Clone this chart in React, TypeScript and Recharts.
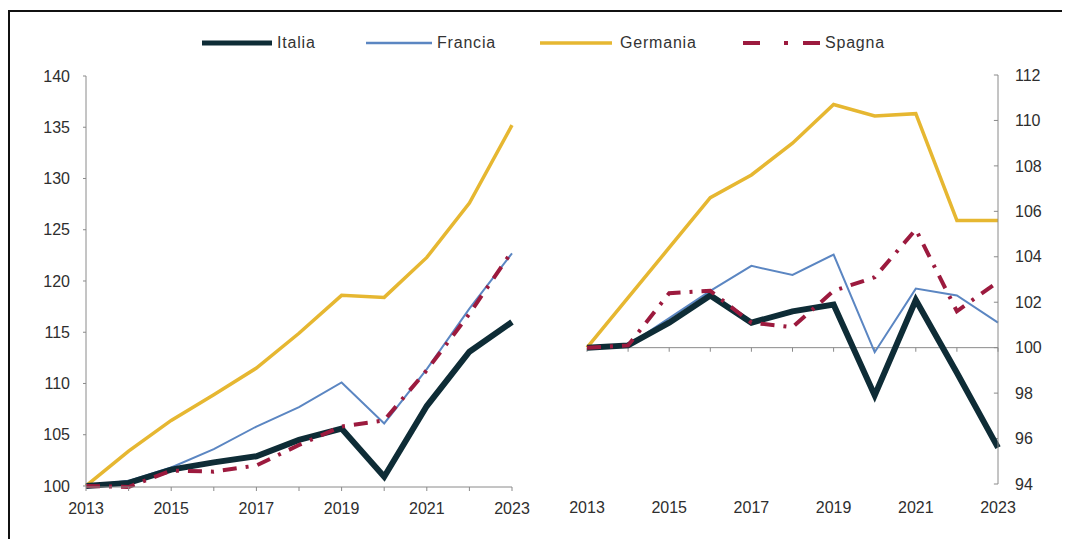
import React from 'react';
import { LineChart, Line, XAxis, YAxis, ReferenceLine } from 'recharts';

const years = [2013, 2014, 2015, 2016, 2017, 2018, 2019, 2020, 2021, 2022, 2023];

// Left panel
const italiaL = [100, 100.3, 101.6, 102.3, 102.9, 104.5, 105.6, 100.9, 107.8, 113.1, 116.0];
const franciaL = [100, 100.5, 101.8, 103.6, 105.8, 107.7, 110.1, 106.1, 111.4, 117.3, 122.7];
const germaniaL = [100, 103.4, 106.4, 108.9, 111.5, 114.9, 118.6, 118.4, 122.3, 127.6, 135.2];
const spagnaL = [100, 99.9, 101.5, 101.4, 102.0, 104.0, 105.8, 106.4, 111.3, 116.8, 122.9];

// Right panel
const italiaR = [100, 100.1, 101.1, 102.3, 101.1, 101.6, 101.9, 97.9, 102.1, 98.9, 95.6];
const franciaR = [100, 100.1, 101.3, 102.5, 103.6, 103.2, 104.1, 99.8, 102.6, 102.3, 101.1];
const germaniaR = [100, 102.2, 104.4, 106.6, 107.6, 109.0, 110.7, 110.2, 110.3, 105.6, 105.6];
const spagnaR = [100, 100.1, 102.4, 102.5, 101.1, 100.9, 102.5, 103.1, 105.2, 101.6, 102.9];

const leftTicks = [100, 105, 110, 115, 120, 125, 130, 135, 140];
const rightTicks = [94, 96, 98, 100, 102, 104, 106, 108, 110, 112];

const seriesNames = ['Italia', 'Francia', 'Germania', 'Spagna'];
const colors = {
  italia: '#0e2c36',
  francia: '#5b86c2',
  germania: '#e6b731',
  spagna: '#9c1a3e',
};

const leftData = years.map((y, i) => ({
  year: y,
  italia: italiaL[i],
  francia: franciaL[i],
  germania: germaniaL[i],
  spagna: spagnaL[i],
}));
const rightData = years.map((y, i) => ({
  year: y,
  italia: italiaR[i],
  francia: franciaR[i],
  germania: germaniaR[i],
  spagna: spagnaR[i],
}));

const FONT = '"Liberation Sans", Arial, sans-serif';
const tickStyle = { fontSize: 16, fill: '#2e2e2e', fontFamily: FONT };
const yearFmt = (v: number) => ((v - 2013) % 2 === 0 ? String(v) : '');

const series = (
  keyPrefix: string
) => [
  <Line key={keyPrefix + 'g'} dataKey="germania" stroke={colors.germania} strokeWidth={3.5} dot={false} isAnimationActive={false} />,
  <Line key={keyPrefix + 'f'} dataKey="francia" stroke={colors.francia} strokeWidth={2} dot={false} isAnimationActive={false} />,
  <Line key={keyPrefix + 'i'} dataKey="italia" stroke={colors.italia} strokeWidth={6} dot={false} isAnimationActive={false} />,
  <Line key={keyPrefix + 's'} dataKey="spagna" stroke={colors.spagna} strokeWidth={4} strokeDasharray="14 9 3 9" dot={false} isAnimationActive={false} />,
];

const legendItems = [
  { name: seriesNames[0], color: colors.italia, width: 5, dash: undefined as string | undefined, lineX: 194, lineW: 70, textX: 269 },
  { name: seriesNames[1], color: colors.francia, width: 2.5, dash: undefined, lineX: 358, lineW: 66, textX: 429 },
  { name: seriesNames[2], color: colors.germania, width: 3.5, dash: undefined, lineX: 532, lineW: 72, textX: 612 },
  { name: seriesNames[3], color: colors.spagna, width: 4, dash: '17 24 4 15 20', lineX: 735, lineW: 77, textX: 817 },
];

export default function App() {
  return (
    <div style={{ position: 'relative', width: 1062, height: 531, overflow: 'hidden', background: '#fff' }}>
      <div
        style={{
          position: 'absolute',
          left: 0,
          top: 2,
          width: 1052,
          height: 600,
          border: '2px solid #111',
        }}
      />
      {legendItems.map((it) => (
        <React.Fragment key={it.name}>
          <svg style={{ position: 'absolute', left: it.lineX, top: 29, overflow: 'visible' }} width={it.lineW} height={12}>
            <line x1={0} y1={6} x2={it.lineW} y2={6} stroke={it.color} strokeWidth={it.width} strokeDasharray={it.dash} />
          </svg>
          <div
            style={{
              position: 'absolute',
              left: it.textX,
              top: 25,
              fontFamily: FONT,
              fontSize: 16,
              letterSpacing: 0.8,
              color: '#333',
              lineHeight: '20px',
              whiteSpace: 'nowrap',
            }}
          >
            {it.name}
          </div>
        </React.Fragment>
      ))}

      <div style={{ position: 'absolute', left: 0, top: 0 }}>
        <LineChart width={540} height={531} data={leftData} margin={{ top: 68, right: 36, bottom: 22, left: 28 }}>
          <XAxis
            dataKey="year"
            type="number"
            domain={[2013, 2023]}
            ticks={years}
            tickFormatter={yearFmt}
            interval={0}
            height={30}
            tickSize={4}
            tickMargin={12}
            stroke="#8a8a8a"
            tick={tickStyle}
          />
          <YAxis
            domain={[100, 140]}
            ticks={leftTicks}
            interval={0}
            width={50}
            tickSize={3}
            tickMargin={13}
            stroke="#8a8a8a"
            tick={tickStyle}
          />
          {series('L')}
        </LineChart>
      </div>

      <div style={{ position: 'absolute', left: 532, top: 0 }}>
        <LineChart width={530} height={531} data={rightData} margin={{ top: 67, right: 22, bottom: 25, left: 47 }}>
          <XAxis
            dataKey="year"
            type="number"
            domain={[2013, 2023]}
            ticks={years}
            tickFormatter={yearFmt}
            interval={0}
            height={30}
            axisLine={false}
            tickLine={false}
            tickSize={0}
            tickMargin={18}
            tick={tickStyle}
          />
          <YAxis
            orientation="right"
            domain={[94, 112]}
            ticks={rightTicks}
            interval={0}
            width={50}
            tickLine={false}
            tickSize={0}
            tickMargin={17}
            stroke="#8a8a8a"
            tick={tickStyle}
          />
          <ReferenceLine y={100} stroke="#8a8a8a" strokeWidth={1} />
          {years.map((yr) => (
            <ReferenceLine
              key={'xt' + yr}
              segment={[{ x: yr, y: 100 }, { x: yr, y: 99.82 }]}
              stroke="#8a8a8a"
            />
          ))}
          {rightTicks.map((v) => (
            <ReferenceLine
              key={'yt' + v}
              segment={[{ x: 2023, y: v }, { x: 2022.9, y: v }]}
              stroke="#8a8a8a"
            />
          ))}
          {series('R')}
        </LineChart>
      </div>
    </div>
  );
}
